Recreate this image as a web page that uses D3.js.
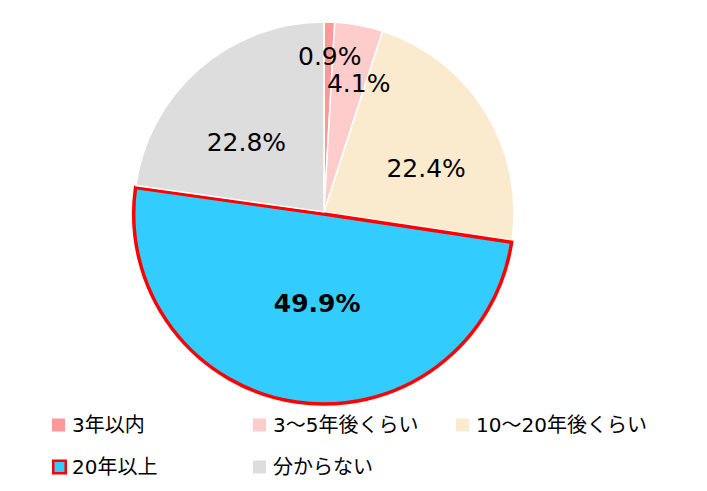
<!DOCTYPE html>
<html>
<head>
<meta charset="utf-8">
<script src="https://cdn.jsdelivr.net/npm/d3@7"></script>
<style>
  html, body { margin: 0; padding: 0; background: #fff; }
  svg { display: block; }
</style>
</head>
<body>
<svg id="chart" width="707" height="491"></svg>
<script>
// ---- data ----
const categories = ["3年以内", "3～5年後くらい", "10～20年後くらい", "20年以上", "分からない"];
const values = [0.9, 4.1, 22.4, 49.9, 22.8];
const colors = ["#FF9999", "#FFCCCC", "#FBEBCE", "#33CCFF", "#DDDDDD"];
const highlighted = [false, false, false, true, false];
// label placement: [radius fraction, angle nudge (deg)]
const labelPlace = [[0.82, 0.5], [0.70, 4.5], [0.585, 8.5], [0.485, -4], [0.55, -7]];
// legend grid positions (column, row)
const legendCol = [0, 1, 2, 0, 1];
const legendRow = [0, 0, 0, 1, 1];

const svg = d3.select("#chart");
const cx = 324, cy = 212, R = 190;

const pie = d3.pie().sort(null).value(d => d)(values);
const arc = d3.arc().innerRadius(0).outerRadius(R);

const g = svg.append("g").attr("transform", `translate(${cx},${cy})`);

pie.forEach((p, i) => {
  const mid = (p.startAngle + p.endAngle) / 2;
  const off = highlighted[i] ? 2 : 0;
  const dx = Math.sin(mid) * off, dy = -Math.cos(mid) * off;
  g.append("path")
    .attr("d", arc(p))
    .attr("transform", `translate(${dx},${dy})`)
    .attr("fill", colors[i])
    .attr("stroke", highlighted[i] ? "#FF0000" : "#FFFFFF")
    .attr("stroke-width", highlighted[i] ? 3.5 : 1.5)
    .attr("stroke-linejoin", "miter");
});

// labels
pie.forEach((p, i) => {
  const mid = (p.startAngle + p.endAngle) / 2 + labelPlace[i][1] * Math.PI / 180;
  const r = R * labelPlace[i][0];
  g.append("text")
    .attr("x", Math.sin(mid) * r)
    .attr("y", -Math.cos(mid) * r)
    .attr("text-anchor", "middle")
    .attr("dominant-baseline", "central")
    .attr("font-family", "'DejaVu Sans', Verdana, sans-serif")
    .attr("font-size", 25)
    .attr("font-weight", highlighted[i] ? "bold" : "normal")
    .attr("fill", "#000")
    .text(values[i].toFixed(1) + "%");
});

// legend
const colX = d3.scaleOrdinal().domain([0, 1, 2]).range([52, 253, 456]);
const rowY = d3.scaleOrdinal().domain([0, 1]).range([425, 467]);
const sq = 13;
categories.forEach((c, i) => {
  const x = colX(legendCol[i]), y = rowY(legendRow[i]);
  if (highlighted[i]) {
    svg.append("rect")
      .attr("x", x + 1.25).attr("y", y - sq / 2 + 0.25)
      .attr("width", sq - 0.5).attr("height", sq - 0.5)
      .attr("fill", colors[i]).attr("stroke", "#FF0000").attr("stroke-width", 2.5);
  } else {
    svg.append("rect")
      .attr("x", x).attr("y", y - sq / 2)
      .attr("width", sq).attr("height", sq)
      .attr("fill", colors[i]);
  }
  svg.append("text")
    .attr("x", x + 20)
    .attr("y", y)
    .attr("dominant-baseline", "central")
    .attr("font-family", "'DejaVu Sans', 'Noto Sans CJK JP', sans-serif")
    .attr("font-size", 20)
    .attr("fill", "#000")
    .text(c);
});
</script>
</body>
</html>
